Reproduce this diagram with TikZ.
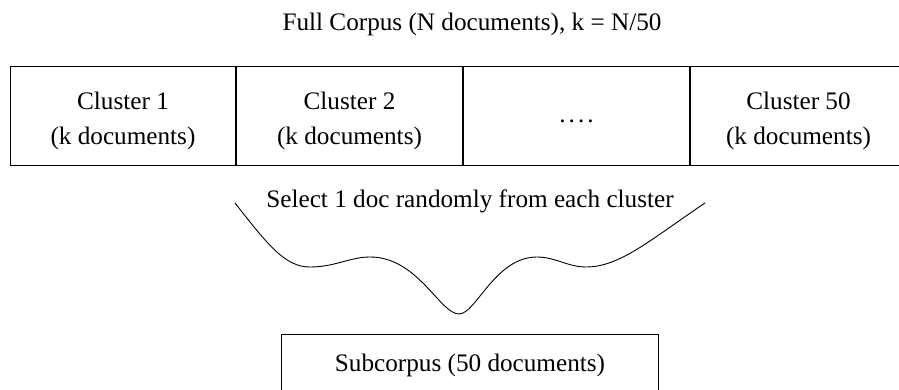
\documentclass[tikz,border=0pt]{standalone}
\usepackage{fontspec}
\setmainfont{Liberation Serif}
\begin{document}
\begin{tikzpicture}[x=1pt,y=-1pt,
  cell/.style={draw,line width=1pt,minimum height=99pt,inner sep=0pt,anchor=north west},
  label/.style={align=center,inner sep=0pt,font=\fontsize{25.2}{35}\selectfont},
  funnel/.style={line width=0.9pt}]
\useasboundingbox (0,0) rectangle (899,390);

% title
\node[label] (title) at (472,24) {Full Corpus (N documents), k = N/50};

% row of clusters
\node[cell,minimum width=225pt] (c1) at (10,66) {};
\node[cell,minimum width=226pt] (c2) at (c1.north east) {};
\node[cell,minimum width=226pt] (c3) at (c2.north east) {};
\node[cell,minimum width=216pt] (c4) at (c3.north east) {};

\node[label] (t1) at ([yshift=-5pt]c1.center) {Cluster 1\\(k documents)};
\node[label] (t2) at ([yshift=-5pt]c2.center) {Cluster 2\\(k documents)};
\node[label] (t3) at ([yshift=-5pt]c3.center) {.\hspace{3pt}.\hspace{3pt}.\hspace{3pt}.};
\node[label] (t4) at ([yshift=-5pt]c4.center) {Cluster 50\\(k documents)};

% selection step
\node[label] (sel) at (470,201) {Select 1 doc randomly from each cluster};

\coordinate (fs) at (235,203);
\coordinate (fe) at (705,203);
\coordinate (tip) at (459,314);
\draw[funnel] (fs)
  .. controls (268,245) and (285,267) .. (310,267)
  .. controls (335,267) and (350,257) .. (370,257)
  .. controls (418,257) and (440,314) .. (tip)
  .. controls (476,314) and (495,257) .. (537,257)
  .. controls (555,257) and (568,267) .. (586,267)
  .. controls (620,267) and (650,240) .. (fe);

% result
\node[draw,line width=1pt,minimum width=377pt,minimum height=60pt,inner sep=0pt,anchor=north west] (sub) at (281,334) {};
\node[label] (subt) at ([yshift=-1pt]sub.center) {Subcorpus (50 documents)};
\end{tikzpicture}
\end{document}
